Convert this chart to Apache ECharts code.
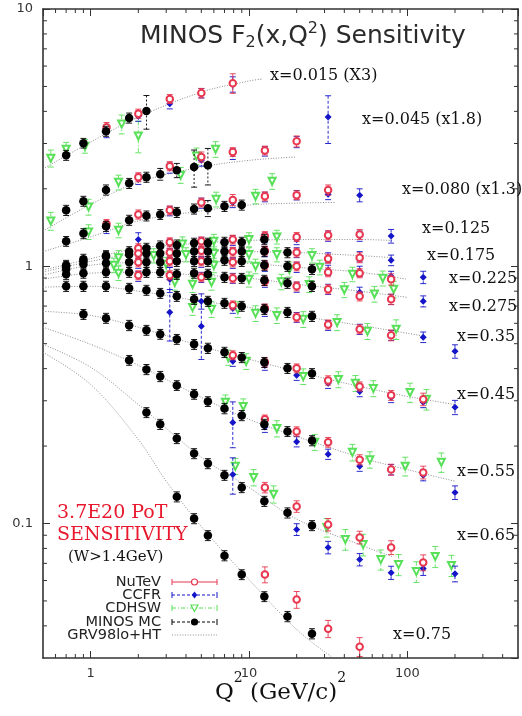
<!DOCTYPE html>
<html><head><meta charset="utf-8">
<script src="https://cdn.jsdelivr.net/npm/echarts@6/dist/echarts.min.js"></script>
<style>html,body{margin:0;padding:0;background:#fff}#c{width:522px;height:716px}</style>
</head><body><div id="c"></div>
<script>
// ---------------- data (Q2 [GeV^2], F2, error) ----------------
const BIN_LABELS = ['x=0.015 (X3)','x=0.045 (x1.8)','x=0.080 (x1.3)','x=0.125','x=0.175','x=0.225','x=0.275','x=0.35','x=0.45','x=0.55','x=0.65','x=0.75'];

const NUTEV = [
 [1.26,3.47,0.15],[2.0,3.92,0.16],[3.16,4.47,0.18],[5.0,4.71,0.2],[7.9,5.15,0.45],
 [2.0,2.22,0.09],[3.16,2.45,0.1],[5.0,2.66,0.12],[7.9,2.78,0.11],[12.6,2.82,0.11],[20,3.06,0.15],
 [1.26,1.46,0.06],[2.0,1.59,0.065],[3.16,1.65,0.065],[5.0,1.77,0.07],[7.9,1.81,0.09],[12.6,1.87,0.075],[20,1.89,0.075],[31.6,1.98,0.09],
 [2.0,1.175,0.048],[3.16,1.24,0.05],[5.0,1.25,0.05],[7.9,1.27,0.05],[12.6,1.31,0.053],[20,1.30,0.053],[31.6,1.32,0.055],[50,1.33,0.06],
 [2.0,1.12,0.045],[3.16,1.13,0.045],[5.0,1.15,0.045],[7.9,1.14,0.045],[12.6,1.15,0.045],[20,1.13,0.045],[31.6,1.07,0.043],[50,1.08,0.048],
 [2.0,1.036,0.042],[3.16,1.045,0.042],[5.0,1.045,0.042],[7.9,1.036,0.042],[12.6,1.009,0.04],[20,1.0,0.04],[31.6,0.948,0.038],[50,0.94,0.038],[79,0.89,0.045],
 [2.0,0.923,0.037],[3.16,0.923,0.037],[5.0,0.906,0.036],[7.9,0.898,0.036],[12.6,0.875,0.035],[20,0.836,0.034],[31.6,0.814,0.033],[50,0.764,0.031],[79,0.744,0.035],
 [7.9,0.705,0.028],[12.6,0.686,0.027],[20,0.633,0.025],[31.6,0.594,0.024],[50,0.569,0.023],[79,0.539,0.026],
 [7.9,0.451,0.018],[12.6,0.423,0.017],[20,0.401,0.016],[31.6,0.360,0.015],[50,0.341,0.014],[79,0.315,0.014],[126,0.304,0.017],
 [12.6,0.254,0.01],[20,0.228,0.0095],[31.6,0.207,0.009],[50,0.177,0.008],[79,0.162,0.008],[126,0.158,0.009],
 [12.6,0.138,0.0065],[20,0.1165,0.006],[31.6,0.099,0.0055],[50,0.0883,0.005],[79,0.0807,0.005],[126,0.0705,0.005],
 [12.6,0.0633,0.0045],[20,0.0506,0.0038],[31.6,0.039,0.003],[50,0.0332,0.0028]
];

const CCFR = [
 [1.26,3.32,0.16],[2.0,3.83,0.17],[3.16,4.28,0.19],[5.0,4.71,0.2],[7.9,5.1,0.35],
 [2.0,2.18,0.1],[3.16,2.41,0.11],[5.0,2.58,0.13],[7.9,2.73,0.13],[12.6,2.80,0.12],[20,3.04,0.15],[31.6,3.80,0.8],
 [1.26,1.41,0.07],[2.0,1.27,0.08],[3.16,1.64,0.07],[5.0,1.76,0.08],[7.9,1.77,0.08],[12.6,1.86,0.08],[20,1.89,0.08],[31.6,1.905,0.09],[50,1.89,0.11],
 [2.0,1.15,0.05],[3.16,1.22,0.055],[5.0,1.24,0.055],[7.9,1.26,0.055],[12.6,1.29,0.057],[20,1.27,0.057],[31.6,1.31,0.06],[50,1.31,0.06],[79,1.31,0.08],
 [2.0,1.10,0.05],[3.16,1.12,0.05],[5.0,1.14,0.05],[7.9,1.13,0.05],[12.6,1.14,0.05],[20,1.13,0.05],[31.6,1.08,0.048],[50,1.09,0.05],[79,1.055,0.05],
 [2.0,1.027,0.046],[3.16,1.036,0.046],[5.0,1.036,0.046],[7.9,1.027,0.046],[12.6,1.0,0.045],[20,0.991,0.045],[31.6,0.965,0.044],[50,0.956,0.044],[79,0.914,0.042],[126,0.906,0.05],
 [2.0,0.914,0.041],[3.16,0.89,0.1],[5.0,0.906,0.041],[7.9,0.898,0.04],[12.6,0.867,0.039],[20,0.829,0.037],[31.6,0.814,0.037],[50,0.793,0.036],[79,0.744,0.034],[126,0.731,0.036],
 [3.16,0.662,0.15],[5.0,0.731,0.05],[7.9,0.686,0.03],[12.6,0.668,0.03],[20,0.633,0.028],[31.6,0.589,0.026],[50,0.569,0.026],[79,0.539,0.024],[126,0.530,0.025],[200,0.467,0.028],
 [5.0,0.584,0.15],[7.9,0.427,0.019],[12.6,0.412,0.018],[20,0.377,0.017],[31.6,0.351,0.016],[50,0.326,0.015],[79,0.309,0.014],[126,0.296,0.014],[200,0.283,0.018],
 [7.9,0.247,0.05],[12.6,0.237,0.011],[20,0.208,0.0095],[31.6,0.186,0.0085],[50,0.167,0.0075],[79,0.162,0.0075],[126,0.154,0.0075],[200,0.132,0.008],
 [7.9,0.155,0.025],[20,0.0948,0.005],[31.6,0.0807,0.0045],[50,0.0724,0.004],[79,0.0644,0.0038],[126,0.0668,0.004],[200,0.0638,0.0045]
];

const CDHSW = [
 [0.56,2.63,0.2],[0.7,2.85,0.18],[0.92,2.93,0.18],[1.57,3.57,0.3],[2.0,3.21,0.45],
 [0.56,1.50,0.12],[0.97,1.70,0.12],[1.5,2.12,0.14],[3.7,2.26,0.16],[4.66,2.68,0.2],[6.15,2.85,0.2],
 [0.97,1.36,0.09],[1.5,1.38,0.09],[6.2,1.82,0.12],[11,1.87,0.12],[14,2.14,0.15],
 [3.8,1.22,0.08],[6.0,1.25,0.08],[10,1.27,0.08],[15,1.30,0.08],
 [1.5,1.08,0.07],[2.5,1.10,0.07],[4,1.11,0.07],[6,1.12,0.07],[10,1.11,0.07],[15,1.11,0.07],[25,1.10,0.07],
 [1.4,1.009,0.065],[3,1.018,0.065],[6,1.009,0.065],[11,1.0,0.065],[18,0.973,0.065],[28,0.991,0.065],[45,0.931,0.06],[70,0.898,0.06],
 [1.5,0.94,0.06],[3.4,0.867,0.06],[4.4,0.851,0.06],[5.8,0.867,0.06],[10,0.89,0.06],[16,0.87,0.06],[24,0.85,0.06],[40,0.81,0.055],[62,0.78,0.055],[82,0.814,0.06],
 [4.4,0.692,0.048],[5.8,0.680,0.048],[8.5,0.680,0.048],[11,0.656,0.046],[15,0.644,0.045],[22,0.622,0.044],[36,0.605,0.043],[56,0.559,0.04],[85,0.569,0.05],
 [7.4,0.442,0.03],[9.6,0.427,0.03],[22,0.373,0.026],[36.7,0.363,0.026],[47,0.351,0.025],[61,0.335,0.024],[104,0.323,0.028],[132,0.304,0.028],
 [7.1,0.296,0.02],[9.2,0.285,0.02],[15,0.234,0.017],[26,0.207,0.015],[45,0.189,0.014],[58,0.177,0.013],[97,0.167,0.014],[164,0.173,0.015],
 [8.2,0.167,0.012],[10.7,0.151,0.011],[14.3,0.130,0.01],[31,0.0965,0.008],[40.6,0.0867,0.008],[52.6,0.0828,0.008],[68,0.0724,0.0065],[88,0.0692,0.0065],[114,0.065,0.006],[150,0.0744,0.007],[190,0.0687,0.0065]
];

const MINOS = [
 [0.7,2.70,0.12],[0.9,3.01,0.13],[1.25,3.35,0.15],[1.75,3.77,0.17],[2.25,4.01,0.6],
 [0.7,1.65,0.075],[0.9,1.79,0.08],[1.25,1.98,0.09],[1.75,2.10,0.095],[2.25,2.22,0.1],[2.75,2.28,0.12],[3.5,2.36,0.15],[4.5,2.43,0.4],[5.5,2.47,0.4],
 [0.7,1.25,0.055],[0.9,1.34,0.06],[1.25,1.43,0.065],[1.75,1.51,0.068],[2.25,1.57,0.07],[2.75,1.59,0.07],[3.5,1.62,0.073],[4.5,1.67,0.075],[5.5,1.68,0.12],[7,1.71,0.077],[9,1.73,0.078],
 [0.7,1.009,0.045],[0.9,1.065,0.048],[1.25,1.10,0.05],[1.75,1.14,0.051],[2.25,1.175,0.053],[2.75,1.20,0.054],[3.5,1.21,0.055],[4.5,1.23,0.055],[5.5,1.23,0.055],[7,1.24,0.056],[9,1.24,0.056],[12.5,1.27,0.057],
 [0.7,1.0,0.045],[0.9,1.045,0.047],[1.25,1.09,0.049],[1.75,1.11,0.05],[2.25,1.12,0.05],[2.75,1.12,0.05],[3.5,1.12,0.05],[4.5,1.14,0.051],[5.5,1.14,0.051],[7,1.14,0.051],[9,1.14,0.051],[12.5,1.14,0.051],[17.5,1.13,0.051],
 [0.7,0.973,0.044],[0.9,1.018,0.046],[1.25,1.027,0.046],[1.75,1.036,0.047],[2.25,1.036,0.047],[2.75,1.036,0.047],[3.5,1.045,0.047],[4.5,1.045,0.047],[5.5,1.045,0.047],[7,1.055,0.047],[9,1.045,0.047],[12.5,1.009,0.045],[17.5,1.0,0.045],[25,0.973,0.044],
 [0.7,0.931,0.042],[0.9,0.94,0.042],[1.25,0.948,0.043],[1.75,0.948,0.043],[2.25,0.948,0.043],[2.75,0.948,0.043],[3.5,0.931,0.042],[4.5,0.94,0.042],[5.5,0.931,0.042],[7,0.906,0.041],[9,0.898,0.04],[12.5,0.882,0.04],[17.5,0.859,0.039],[25,0.836,0.038],
 [0.7,0.836,0.038],[0.9,0.836,0.038],[1.25,0.836,0.038],[1.75,0.821,0.037],[2.25,0.807,0.036],[2.75,0.785,0.035],[3.5,0.764,0.034],[4.5,0.744,0.033],[5.5,0.731,0.033],[7,0.718,0.032],[9,0.699,0.031],[12.5,0.680,0.031],[17.5,0.662,0.03],[25,0.639,0.029],
 [0.9,0.650,0.029],[1.25,0.628,0.028],[1.75,0.589,0.027],[2.25,0.564,0.025],[2.75,0.544,0.024],[3.5,0.520,0.023],[4.5,0.497,0.022],[5.5,0.480,0.022],[7,0.463,0.021],[9,0.442,0.02],[12.5,0.423,0.019],[17.5,0.401,0.018],[25,0.383,0.017],
 [1.75,0.431,0.019],[2.25,0.397,0.018],[2.75,0.373,0.017],[3.5,0.344,0.015],[4.5,0.318,0.014],[5.5,0.298,0.013],[7,0.280,0.013],[9,0.263,0.012],[12.5,0.243,0.011],[17.5,0.228,0.01],[25,0.210,0.0095],
 [2.25,0.270,0.012],[2.75,0.243,0.011],[3.5,0.214,0.0096],[4.5,0.187,0.0084],[5.5,0.171,0.0077],[7,0.154,0.0069],[9,0.138,0.0062],[12.5,0.122,0.0055],[17.5,0.110,0.005],[25,0.0982,0.0044],
 [3.5,0.127,0.0057],[4.5,0.1045,0.0047],[5.5,0.0898,0.004],[7,0.075,0.0034],[9,0.0633,0.0028],[12.5,0.052,0.0023],[17.5,0.0435,0.002],[25,0.0373,0.0017]
];

// GRV98lo+HT curves, one per x bin: [Q2, F2]
const GRV_0015 = [[0.5,2.39],[1,3.04],[2,3.80],[5,4.75],[10,5.25],[12,5.34]];
const GRV_0045 = [[0.5,1.37],[1,1.74],[2,2.12],[5,2.43],[10,2.58],[20,2.66]];
const GRV_0080 = [[0.5,1.14],[1,1.30],[2,1.50],[5,1.64],[10,1.73],[20,1.76],[35,1.77]];
const GRV_0125 = [[0.5,0.965],[1,1.07],[2,1.175],[5,1.23],[10,1.26],[20,1.27],[50,1.27],[80,1.26]];
const GRV_0175 = [[0.5,0.948],[1,1.045],[2,1.12],[5,1.15],[10,1.14],[20,1.13],[50,1.10],[80,1.08]];
const GRV_0225 = [[0.5,0.923],[1,1.009],[2,1.036],[5,1.045],[10,1.027],[20,0.991],[50,0.948],[100,0.89]];
const GRV_0275 = [[0.5,0.89],[1,0.94],[2,0.948],[5,0.923],[10,0.898],[20,0.851],[50,0.80],[100,0.757]];
const GRV_035  = [[0.5,0.829],[1,0.836],[2,0.80],[5,0.731],[10,0.692],[20,0.644],[50,0.589],[100,0.549],[130,0.534]];
const GRV_045  = [[0.5,0.668],[1,0.644],[2,0.579],[5,0.489],[10,0.435],[20,0.390],[50,0.341],[100,0.312],[200,0.290]];
const GRV_055  = [[0.5,0.579],[1,0.497],[2,0.412],[5,0.309],[10,0.254],[20,0.218],[50,0.181],[100,0.162],[200,0.146]];
const GRV_065  = [[0.5,0.497],[1,0.405],[2,0.290],[5,0.181],[10,0.138],[20,0.104],[50,0.0828],[80,0.0744]];
const GRV_075  = [[0.5,0.463],[1,0.347],[2,0.212],[3,0.146],[5,0.0973],[10,0.0605],[20,0.0387],[33,0.0304]];

const X_MINOR = [0.6,0.7,0.8,0.9,2,3,4,5,6,7,8,9,20,30,40,50,60,70,80,90,200,300,400];
const Y_MINOR = [0.04,0.05,0.06,0.07,0.08,0.09,0.2,0.3,0.4,0.5,0.6,0.7,0.8,0.9,2,3,4,5,6,7,8,9];

// ---------------- chart ----------------
const chart = echarts.init(document.getElementById('c'), null, {renderer:'canvas'});
const AX = '#333';
const SANS = 'DejaVu Sans', SERIF = 'DejaVu Serif';

function isDecade(v){ const l = Math.log10(v); return Math.abs(l - Math.round(l)) < 1e-6; }
function fmt(v){ return isDecade(v) ? String(+(+v).toPrecision(6)) : ''; }

function errRender(color, dash){
  return function(params, api){
    const x = api.value(0), lo = api.value(1), hi = api.value(2);
    const p1 = api.coord([x, hi]), p2 = api.coord([x, lo]);
    const w = 3;
    const s = {stroke: color, lineWidth: 0.9, lineDash: dash || null};
    const c = {stroke: color, lineWidth: 0.9};
    return {type:'group', children:[
      {type:'line', shape:{x1:p1[0], y1:p1[1], x2:p2[0], y2:p2[1]}, style:s},
      {type:'line', shape:{x1:p1[0]-w, y1:p1[1], x2:p1[0]+w, y2:p1[1]}, style:c},
      {type:'line', shape:{x1:p2[0]-w, y1:p2[1], x2:p2[0]+w, y2:p2[1]}, style:c}
    ]};
  };
}

const series = [];
[GRV_0015,GRV_0045,GRV_0080,GRV_0125,GRV_0175,GRV_0225,GRV_0275,GRV_035,GRV_045,GRV_055,GRV_065,GRV_075].forEach(function(c){
  series.push({type:'line', data:c, smooth:0.35, symbol:'none', silent:true, z:1,
    lineStyle:{color:'#8c8c8c', width:1, type:[1,1.6]}});
});

const EXPS = [
  {name:'CDHSW', rows:CDHSW, color:'#58e058', dash:[4,2,1,2], symbol:'emptyTriangle', rotate:180, size:7},
  {name:'CCFR', rows:CCFR, color:'#1414c8', dash:[3,2], symbol:'diamond', rotate:0, size:7},
  {name:'NuTeV', rows:NUTEV, color:'#e8374f', dash:null, symbol:'emptyCircle', rotate:0, size:6.5},
  {name:'MINOS MC', rows:MINOS, color:'#000000', dash:[2,2], symbol:'circle', rotate:0, size:8.5}
];
EXPS.forEach(function(e, i){
  series.push({type:'custom', name:e.name+' err', silent:true, z:2+i*2,
    data: e.rows.map(r => [r[0], r[1]-r[2], r[1]+r[2]]),
    encode:{x:0, y:[1,2]}, renderItem: errRender(e.color, e.dash)});
  series.push({type:'scatter', name:e.name, z:3+i*2, silent:true,
    data: e.rows.map(r => [r[0], r[1]]),
    symbol:e.symbol, symbolSize:e.size, symbolRotate:e.rotate,
    itemStyle:{color:e.color, borderColor:e.color, borderWidth: e.symbol.indexOf('empty')===0 ? 1.3 : 0, opacity:1}});
});

// minor ticks on all four sides
series.push({type:'custom', silent:true, z:20, data: X_MINOR.map(v => [v, 1]), encode:{x:0, y:1},
  renderItem: function(params, api){
    const cs = params.coordSys; const px = api.coord([api.value(0), 1])[0];
    const st = {stroke:AX, lineWidth:1};
    return {type:'group', children:[
      {type:'line', shape:{x1:px, y1:cs.y+cs.height, x2:px, y2:cs.y+cs.height-4}, style:st},
      {type:'line', shape:{x1:px, y1:cs.y, x2:px, y2:cs.y+4}, style:st}]};
  }});
series.push({type:'custom', silent:true, z:20, data: Y_MINOR.map(v => [1, v]), encode:{x:0, y:1},
  renderItem: function(params, api){
    const cs = params.coordSys; const py = api.coord([1, api.value(1)])[1];
    const st = {stroke:AX, lineWidth:1};
    return {type:'group', children:[
      {type:'line', shape:{x1:cs.x, y1:py, x2:cs.x+4, y2:py}, style:st},
      {type:'line', shape:{x1:cs.x+cs.width, y1:py, x2:cs.x+cs.width-4, y2:py}, style:st}]};
  }});

// graphic annotations
const LABEL_POS = [[270,76],[362,120],[402,190],[422,229],[427,256],[449,279],[449,307],[457,337],[457,395],[457,472],[457,536],[393,635]];
const graphic = [];
BIN_LABELS.forEach(function(t, i){
  graphic.push({type:'text', x:LABEL_POS[i][0], y:LABEL_POS[i][1], z:30,
    style:{text:t, fontFamily:SERIF, fontSize:16, fill:'#111', align:'left', verticalAlign:'middle'}});
});
graphic.push({type:'text', x:57, y:513, z:30, style:{text:'3.7E20 PoT', fontFamily:SERIF, fontSize:19, fill:'#e8182e', align:'left', verticalAlign:'middle'}});
graphic.push({type:'text', x:57, y:535, z:30, style:{text:'SENSITIVITY', fontFamily:SERIF, fontSize:19, fill:'#e8182e', align:'left', verticalAlign:'middle'}});
graphic.push({type:'text', x:68, y:557, z:30, style:{text:'(W>1.4GeV)', fontFamily:SERIF, fontSize:15, fill:'#111', align:'left', verticalAlign:'middle'}});

// legend (drawn)
const LEG = [
  {name:'NuTeV', color:'#e8374f', dash:null, mk:'ocircle'},
  {name:'CCFR', color:'#1414c8', dash:[3,2], mk:'diamond'},
  {name:'CDHSW', color:'#58e058', dash:[4,2,1,2], mk:'tri'},
  {name:'MINOS MC', color:'#000', dash:[3,2], mk:'dot'},
  {name:'GRV98lo+HT', color:'#8c8c8c', dash:[1,1.6], mk:null}
];
const LEG_Y = [582,595,608,622,635];
LEG.forEach(function(l, i){
  const y = LEG_Y[i], x1 = 172, x2 = 217, xm = 194.5;
  graphic.push({type:'text', x:161, y:y, z:30, style:{text:l.name, fontFamily:SANS, fontSize:14.5, fill:'#222', align:'right', verticalAlign:'middle'}});
  graphic.push({type:'line', z:30, shape:{x1:x1, y1:y, x2:x2, y2:y}, style:{stroke:l.color, lineWidth:1, lineDash:l.dash}});
  if (l.mk) {
    graphic.push({type:'line', z:30, shape:{x1:x1, y1:y-3, x2:x1, y2:y+3}, style:{stroke:l.color, lineWidth:1}});
    graphic.push({type:'line', z:30, shape:{x1:x2, y1:y-3, x2:x2, y2:y+3}, style:{stroke:l.color, lineWidth:1}});
  }
  if (l.mk === 'ocircle') graphic.push({type:'circle', z:31, shape:{cx:xm, cy:y, r:3}, style:{fill:'#fff', stroke:l.color, lineWidth:1.2}});
  if (l.mk === 'dot') graphic.push({type:'circle', z:31, shape:{cx:xm, cy:y, r:3.6}, style:{fill:'#000'}});
  if (l.mk === 'diamond') graphic.push({type:'polygon', z:31, shape:{points:[[xm,y-3.5],[xm+2.8,y],[xm,y+3.5],[xm-2.8,y]]}, style:{fill:l.color}});
  if (l.mk === 'tri') graphic.push({type:'polygon', z:31, shape:{points:[[xm-3.5,y-3],[xm+3.5,y-3],[xm,y+3.5]]}, style:{fill:'#fff', stroke:l.color, lineWidth:1.2}});
});

const axCommon = {
  type:'log', logBase:10, splitLine:{show:false},
  axisLine:{show:true, lineStyle:{color:AX, width:1.6}},
  axisTick:{show:true, inside:true, length:7, lineStyle:{color:AX, width:1}}
};

chart.setOption({
  animation:false,
  backgroundColor:'#fff',
  title:{
    text:'{a|MINOS F}{b|2}{a|(x,Q}{c|2}{a|) Sensitivity}', left:140, top:21, padding:0,
    textStyle:{fontWeight:'normal', rich:{
      a:{fontFamily:SANS, fontSize:25, fontWeight:'normal', color:'#2a2a2a', lineHeight:30, verticalAlign:'middle'},
      b:{fontFamily:SANS, fontSize:16, fontWeight:'normal', color:'#2a2a2a', lineHeight:16, verticalAlign:'bottom'},
      c:{fontFamily:SANS, fontSize:16, fontWeight:'normal', color:'#2a2a2a', lineHeight:16, verticalAlign:'top'}
    }}
  },
  grid:{left:43, right:4, top:9, bottom:58, containLabel:false, outerBoundsMode:'none'},
  xAxis:[
    Object.assign({}, axCommon, {min:0.5, max:500, position:'bottom',
      axisLabel:{show:true, formatter:fmt, margin:9, fontFamily:SANS, fontSize:13, color:'#333', showMinLabel:false, showMaxLabel:false},
      name:'{q|Q}{s|2}{q| (GeV/c)}{s|2}', nameLocation:'middle', nameGap:35, nameMoveOverlap:false,
      nameTextStyle:{verticalAlign:'middle', rich:{
        q:{fontFamily:SERIF, fontSize:23, color:'#111', lineHeight:44, verticalAlign:'middle'},
        s:{fontFamily:SERIF, fontSize:14, color:'#111', lineHeight:14, verticalAlign:'top'}
      }}}),
    Object.assign({}, axCommon, {min:0.5, max:500, position:'top', axisLabel:{show:false}})
  ],
  yAxis:[
    Object.assign({}, axCommon, {min:0.03, max:10, position:'left',
      axisLabel:{show:true, formatter:fmt, margin:10, fontFamily:SANS, fontSize:13, color:'#333', showMinLabel:false, showMaxLabel:true}}),
    Object.assign({}, axCommon, {min:0.03, max:10, position:'right', axisLabel:{show:false}})
  ],
  graphic: graphic,
  series: series
});
</script>
</body></html>
